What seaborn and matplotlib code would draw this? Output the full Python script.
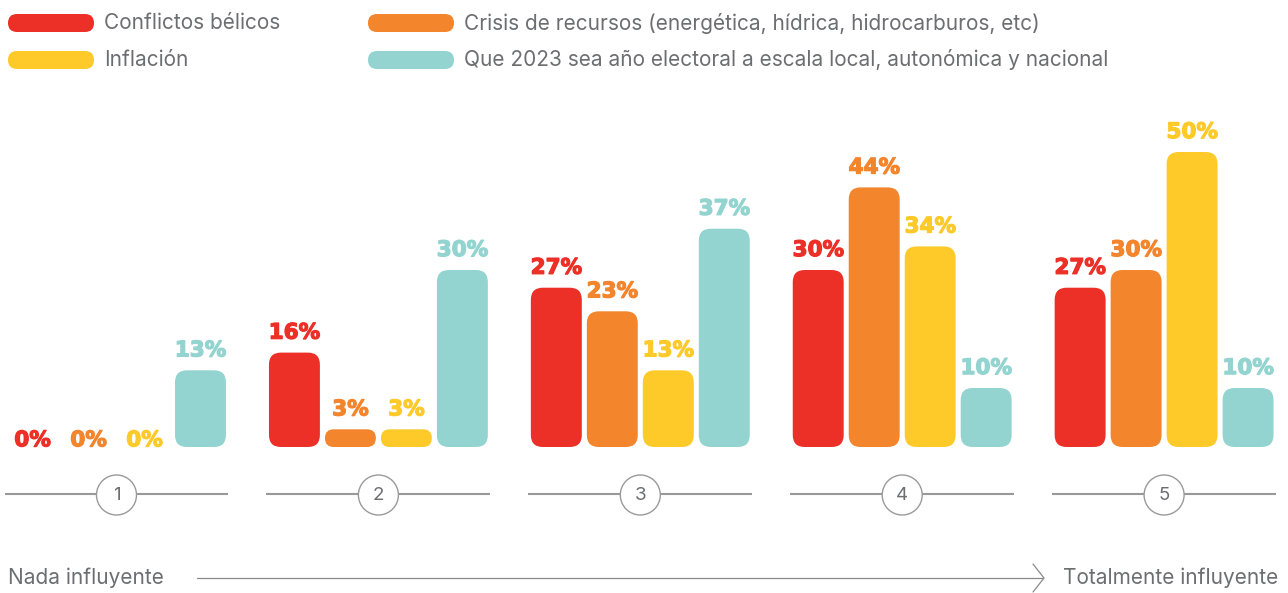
import numpy as np
import pandas as pd
import matplotlib
matplotlib.use("Agg")
import matplotlib.pyplot as plt
import matplotlib.patheffects as pe
from matplotlib.patches import FancyBboxPatch, Circle
import seaborn as sns

# ---- data ----
categories = ["1", "2", "3", "4", "5"]
series_names = [
    "Conflictos bélicos",
    "Crisis de recursos (energética, hídrica, hidrocarburos, etc)",
    "Inflación",
    "Que 2023 sea año electoral a escala local, autonómica y nacional",
]
conflictos = [0, 16, 27, 30, 27]
crisis = [0, 3, 23, 44, 30]
inflacion = [0, 3, 13, 34, 50]
electoral = [13, 30, 37, 10, 10]
colors = ["#EC3027", "#F3852D", "#FDCA2A", "#93D4D0"]
left_label = "Nada influyente"
right_label = "Totalmente influyente"

values = [conflictos, crisis, inflacion, electoral]
rows = []
for s, vals in zip(series_names, values):
    for c, v in zip(categories, vals):
        rows.append({"cat": c, "serie": s, "val": v})
df = pd.DataFrame(rows)

sns.set_theme(style="white")
plt.rcParams["font.family"] = ["Inter", "DejaVu Sans"]

W, H = 1288, 593
fig = plt.figure(figsize=(W / 100, H / 100), dpi=100)
ax = fig.add_axes([0, 0, 1, 1])

sns.barplot(data=df, x="cat", y="val", hue="serie", hue_order=series_names,
            order=categories, palette=colors, width=0.855, gap=0.09,
            errorbar=None, legend=False, ax=ax)

# scales: px per unit
pxx = 261.9
pxy = 5.9
x0px = 116.5
base_px = 447
ax.set_xlim(-x0px / pxx, (W - x0px) / pxx)
ax.set_ylim(-(H - base_px) / pxy, base_px / pxy)
ax.set_axis_off()

# replace bars with rounded ones
for si, cont in enumerate(ax.containers):
    for ci, bar in enumerate(cont.patches):
        x, w, h = bar.get_x(), bar.get_width(), bar.get_height()
        bar.set_visible(False)
        v = values[si][ci]
        if h > 0:
            hpx = h * pxy
            r = min(12.0, hpx / 2.0)
            fb = FancyBboxPatch((x, 0), w, h,
                                boxstyle=f"round,pad=0,rounding_size={r / pxx}",
                                mutation_aspect=pxx / pxy,
                                facecolor=colors[si], edgecolor="none", zorder=3)
            ax.add_patch(fb)
        off = 10 if v > 0 else 0.5
        ax.annotate(f"{v}%", (x + w / 2, v), xytext=(0, off), textcoords="offset points",
                    ha="center", va="baseline", fontsize=15.5, fontweight="bold",
                    family="DejaVu Sans", color=colors[si], zorder=4,
                    path_effects=[pe.Stroke(linewidth=0.9, foreground=colors[si]), pe.Normal()])

# overlay axes in pixel coordinates
ov = fig.add_axes([0, 0, 1, 1], facecolor="none")
ov.set_xlim(0, W)
ov.set_ylim(H, 0)
ov.set_axis_off()

gray_txt = "#6d6e71"
fs = 15
# legend
leg_pos = [(8, 23), (368, 23), (8, 60), (368, 60)]
for (lx, ly), name, col in zip(leg_pos, series_names, colors):
    ov.add_patch(FancyBboxPatch((lx, ly - 9), 86, 18,
                                boxstyle="round,pad=0,rounding_size=9",
                                facecolor=col, edgecolor="none"))
    ov.text(lx + 96, ly, name, ha="left", va="center", fontsize=fs, color=gray_txt)

# category markers
cy = 495
for i, c in enumerate(categories):
    cx = ax.transData.transform((i, 0))[0]
    ov.plot([cx - 112, cx + 112], [cy - 1, cy - 1], color="#999999", lw=1.5,
            solid_capstyle="butt", zorder=1)
    ov.add_patch(Circle((cx, cy), 20, facecolor="white", edgecolor="#9a9a9a",
                        lw=1.0, zorder=2))
    ov.text(cx, cy + 1, c, ha="center", va="center", fontsize=13.5, color=gray_txt, zorder=3)

# axis arrow
ay = 578
ov.plot([197, 1043], [ay, ay], color="#8a8a8a", lw=0.9)
ov.plot([1033, 1044, 1033], [ay - 14, ay, ay + 14], color="#8a8a8a", lw=0.9)
ov.text(8, ay, left_label, ha="left", va="center", fontsize=fs, color=gray_txt)
ov.text(1063, ay, right_label, ha="left", va="center", fontsize=fs, color=gray_txt)

fig.savefig("out.png", dpi=100, facecolor="white")
